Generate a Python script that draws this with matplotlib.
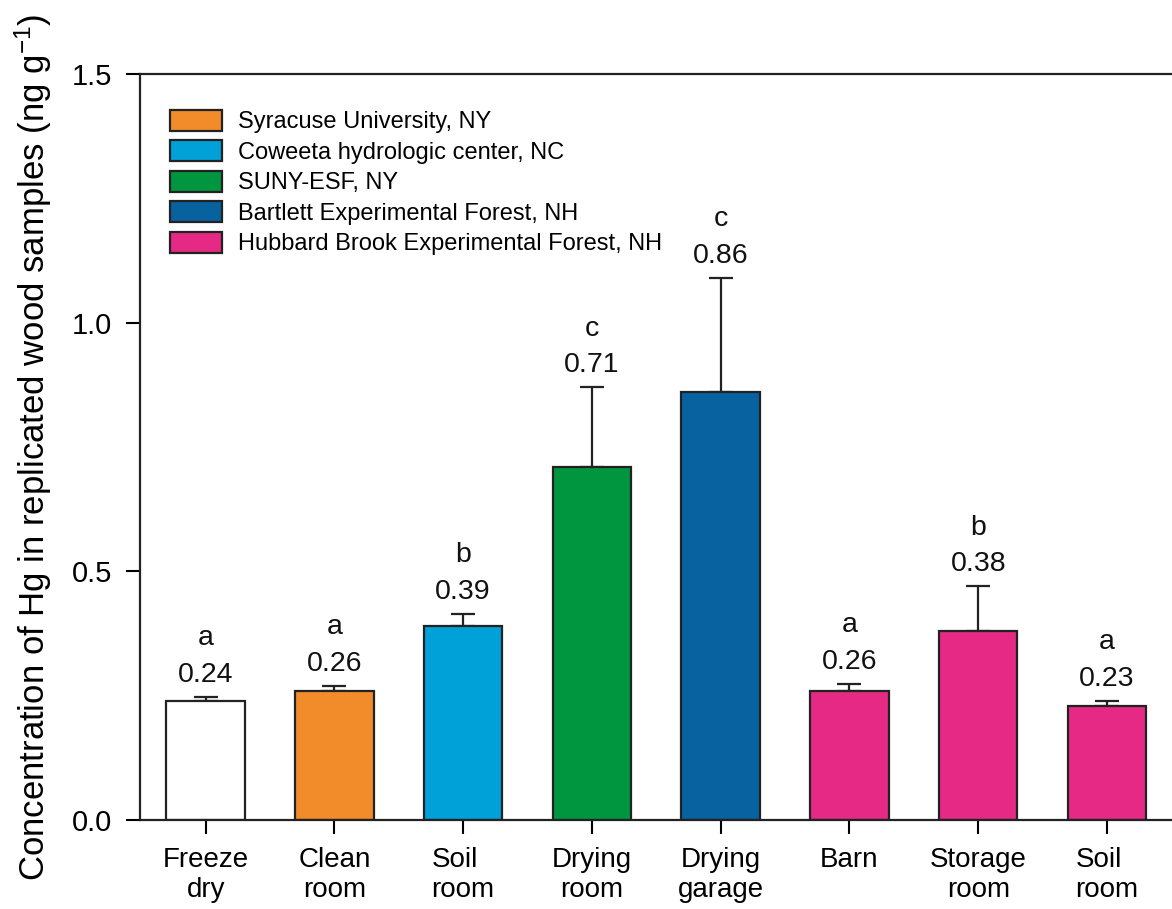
import matplotlib
matplotlib.use("Agg")
import matplotlib.pyplot as plt
from matplotlib.patches import Patch

plt.rcParams['font.family'] = ['Liberation Sans', 'DejaVu Sans']
plt.rcParams['mathtext.default'] = 'regular'

categories = ["Freeze\ndry", "Clean\nroom", "Soil\nroom", "Drying\nroom", "Drying\ngarage",
              "Barn", "Storage\nroom", "Soil\nroom"]
values = [0.24, 0.26, 0.39, 0.71, 0.86, 0.26, 0.38, 0.23]
errors = [0.007, 0.009, 0.024, 0.16, 0.23, 0.014, 0.09, 0.010]
letters = ["a", "a", "b", "c", "c", "a", "b", "a"]
value_labels = ["0.24", "0.26", "0.39", "0.71", "0.86", "0.26", "0.38", "0.23"]
sites = ["Syracuse University, NY", "Coweeta hydrologic center, NC", "SUNY-ESF, NY",
         "Bartlett Experimental Forest, NH", "Hubbard Brook Experimental Forest, NH"]
site_colors = ["#F28C2B", "#00A0D8", "#00963F", "#0862A0", "#E62984"]
bar_colors = ["#FFFFFF", site_colors[0], site_colors[1], site_colors[2], site_colors[3],
              site_colors[4], site_colors[4], site_colors[4]]

fig = plt.figure(figsize=(11.72, 9.09), dpi=100)
ax = fig.add_axes([140/1172, 1 - 820/909, 1 - 140/1172, (820 - 74)/909])

edge = "#222222"
x = list(range(len(values)))
ax.bar(x, values, width=0.61, color=bar_colors, edgecolor=edge, linewidth=1.6, zorder=2)
ax.errorbar(x, values, yerr=[[0]*len(errors), errors], fmt='none', ecolor=edge,
            elinewidth=1.6, capsize=8.5, capthick=1.6, zorder=1)

for xi, v, e, lab, let in zip(x, values, errors, value_labels, letters):
    top = v + e
    ax.text(xi, top + 0.030, lab, ha='center', va='baseline', fontsize=20.5, color='#111111')
    ax.text(xi, top + 0.104, let, ha='center', va='baseline', fontsize=20.5, color='#111111')

ax.set_xlim(-0.51, 7.505)
ax.set_ylim(0, 1.5)
ax.set_yticks([0.0, 0.5, 1.0, 1.5])
ax.set_yticklabels(["0.0", "0.5", "1.0", "1.5"], fontsize=21)
ax.set_xticks(x)
ticklabels = ax.set_xticklabels(categories, fontsize=20, linespacing=1.22)
for t in ticklabels:
    if t.get_text().startswith("Soil"):
        t.set_multialignment('left')
ax.tick_params(axis='y', direction='out', length=10, width=1.5, pad=10)
ax.tick_params(axis='x', direction='out', length=10, width=1.5, pad=9.5)
for s in ['left', 'bottom', 'top']:
    ax.spines[s].set_linewidth(1.6)
    ax.spines[s].set_color(edge)
ax.spines['right'].set_visible(False)

ax.set_ylabel("Concentration of Hg in replicated wood samples (ng g$^{-1}$)", fontsize=25)
ax.yaxis.set_label_coords(-0.0833, 0.5)

handles = [Patch(facecolor=c, edgecolor=edge, linewidth=1.6) for c in site_colors]
ax.legend(handles, sites, loc='upper left', bbox_to_anchor=(0.029, 0.952), frameon=False,
          fontsize=17, handlelength=2.2, handleheight=1.0, labelspacing=0.29, handletextpad=0.68,
          borderaxespad=0, borderpad=0)

fig.savefig("out.png", dpi=100)
